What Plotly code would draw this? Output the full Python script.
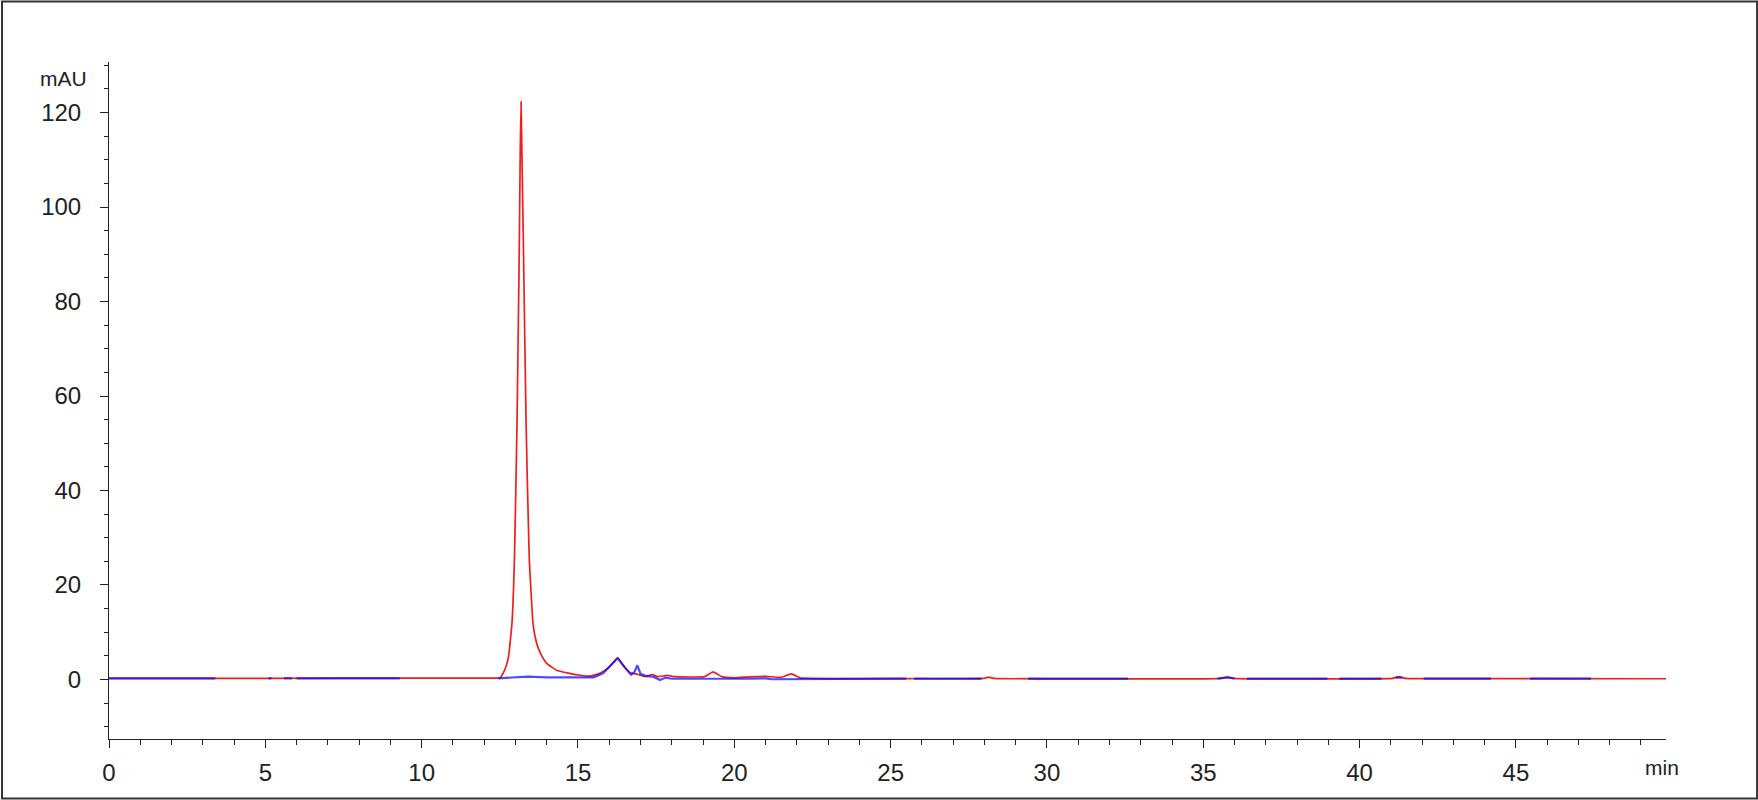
import plotly.graph_objects as go

# ---- data ----
red_time = [0.0, 5.0, 10.0, 12.4, 12.51, 12.62, 12.7, 12.78, 12.89, 12.97, 13.05, 13.12, 13.15,
            13.18, 13.21, 13.26, 13.34, 13.44, 13.56, 13.63, 13.72, 13.85, 14.0, 14.33, 14.65,
            15.07, 15.4, 15.7, 16.0, 16.27, 16.45, 16.67, 16.9, 17.15, 17.37, 17.55, 17.85,
            18.1, 19.05, 19.32, 19.6, 20.0, 20.5, 21.0, 21.5, 21.82, 22.1, 22.5, 28.0, 28.12,
            28.3, 35.6, 35.77, 35.95, 41.05, 41.25, 41.45, 45.0, 49.8]
red_mau = [0.25, 0.25, 0.3, 0.3, 0.35, 1.5, 2.8, 4.9, 12.0, 26.1, 54.3, 89.6, 110.0,
           122.3, 110.0, 89.6, 54.3, 26.1, 12.0, 9.0, 6.8, 4.9, 3.4, 1.9, 1.4,
           0.9, 0.7, 1.3, 2.6, 4.6, 3.0, 1.4, 1.1, 0.6, 1.05, 0.6, 0.85,
           0.6, 0.6, 1.6, 0.6, 0.35, 0.55, 0.65, 0.45, 1.2, 0.35, 0.25, 0.25, 0.5,
           0.25, 0.25, 0.5, 0.25, 0.25, 0.6, 0.25, 0.2, 0.15]

blue_time = [0.0, 3.4, None, 5.1, 5.2, None, 5.6, 5.85, None, 6.0, 9.3, None,
             12.45, 13.0, 13.4, 14.0, 15.0, 15.5, 15.8, 16.0, 16.27, 16.5, 16.7, 16.8, 16.9,
             17.0, 17.2, 17.4, 17.63, 17.8, 18.0, 20.5, 20.8, 21.0, 21.2, 22.0, 22.3, 25.5, None,
             25.75, 27.9, None, 29.4, 32.6, None, 35.45, 35.77, 36.0, None, 36.4, 38.97, None,
             39.35, 40.7, None, 41.15, 41.25, 41.35, None, 42.05, 44.2, None, 45.45, 47.4]
blue_mau = [0.25, 0.25, None, 0.25, 0.25, None, 0.25, 0.25, None, 0.25, 0.25, None,
            0.25, 0.45, 0.6, 0.45, 0.35, 0.45, 1.3, 2.6, 4.5, 2.5, 1.0, 1.5, 3.0,
            1.2, 0.7, 0.6, -0.1, 0.4, 0.15, 0.15, 0.3, 0.25, 0.05, 0.05, 0.2, 0.2, None,
            0.2, 0.2, None, 0.2, 0.2, None, 0.2, 0.45, 0.2, None, 0.2, 0.2, None,
            0.2, 0.2, None, 0.35, 0.45, 0.35, None, 0.2, 0.2, None, 0.2, 0.2]

x_ticks = [0, 5, 10, 15, 20, 25, 30, 35, 40, 45]
y_ticks = [0, 20, 40, 60, 80, 100, 120]

FONT = "Liberation Sans"

fig = go.Figure()
fig.add_trace(go.Scatter(x=red_time, y=red_mau, mode="lines",
                         line=dict(color="#f01e1e", width=1.7, shape="spline", smoothing=0.4),
                         showlegend=False))
fig.add_trace(go.Scatter(x=blue_time, y=blue_mau, mode="lines", connectgaps=False,
                         line=dict(color="#0808ff", width=2.2), opacity=0.72, showlegend=False))

axis_common = dict(showline=True, linecolor="#222", linewidth=1, ticks="outside",
                   tickcolor="#222", tickwidth=1, ticklen=8, showgrid=False, zeroline=False,
                   tickfont=dict(family=FONT, size=24, color="#222"))

fig.update_xaxes(range=[0, 49.8], tickvals=x_ticks, ticktext=[str(v) for v in x_ticks],
                 minor=dict(ticks="outside", dtick=1, tick0=0, ticklen=5, tickcolor="#222"),
                 ticklabelstandoff=4, **axis_common)
fig.update_yaxes(range=[-12.6, 130.7], tickvals=y_ticks, ticktext=[str(v) for v in y_ticks],
                 minor=dict(ticks="outside", dtick=5, tick0=0, ticklen=4, tickcolor="#222"),
                 ticklabelstandoff=14, **axis_common)

fig.add_annotation(text="mAU", xref="paper", yref="paper", x=-0.0295, y=0.975,
                   xanchor="center", yanchor="middle", showarrow=False,
                   font=dict(family=FONT, size=21, color="#222"))
fig.add_annotation(text="min", xref="paper", yref="paper", x=0.9974, y=-0.0428,
                   xanchor="center", yanchor="middle", showarrow=False,
                   font=dict(family=FONT, size=21, color="#222"))

fig.add_shape(type="rect", xref="paper", yref="paper", x0=-0.0687, x1=1.0585,
              y0=-0.0878, y1=1.0894, line=dict(color="#333", width=2))

fig.update_layout(width=1758, height=800, margin=dict(l=109, r=92, t=62, b=61),
                  plot_bgcolor="white", paper_bgcolor="white")

fig.write_html("out.html", config={"displayModeBar": False},
               post_script="document.body.style.margin='0';document.body.style.overflow='hidden';")
